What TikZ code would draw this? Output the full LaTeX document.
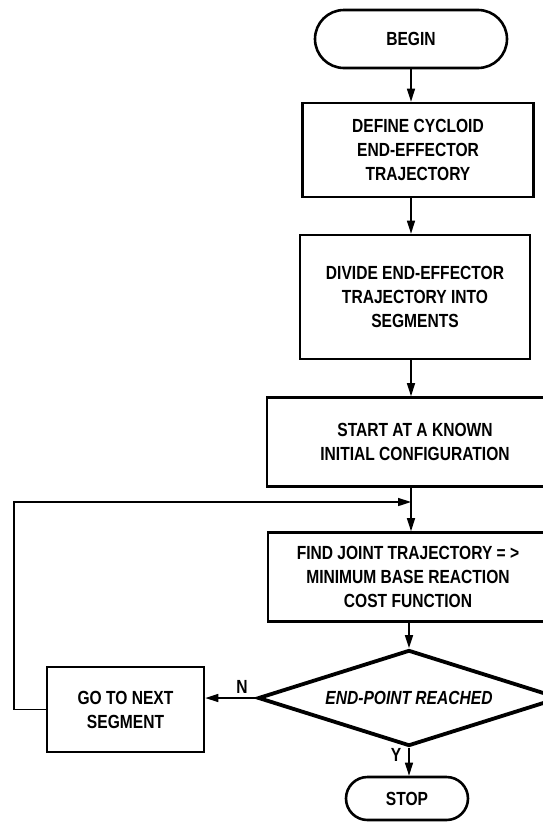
\documentclass[tikz,border=0pt]{standalone}
\usepackage{fontspec}
\setmainfont{Liberation Sans}[FakeStretch=0.82]
\usepackage{tikz}
\usetikzlibrary{arrows.meta, shapes.misc, shapes.geometric}
\newcommand{\chartfont}{\fontsize{19}{24}\selectfont\bfseries}
\tikzset{
    terminal/.style={rounded rectangle, draw, line width=2.6pt, inner sep=0pt},
    process/.style={rectangle, draw, line width=2.6pt, align=center, inner sep=0pt},
    decision/.style={diamond, aspect=3.15, draw, line width=3.8pt, inner sep=0pt, font=\chartfont\itshape},
    flow/.style={line width=1.6pt, -{Triangle[length=13pt, width=8pt]}},
    answer/.style={inner sep=1pt}
}

\begin{document}
\begin{tikzpicture}[x=1pt, y=-1pt, font=\chartfont]
    \useasboundingbox (0,0) rectangle (543,822);
    % main column of the chart
    \node[terminal, minimum width=192pt, minimum height=58pt] (begin) at (411,39) {BEGIN};
    \node[process, minimum width=231pt, minimum height=94pt] (define) at (418,150) {DEFINE CYCLOID\\END-EFFECTOR\\TRAJECTORY};
    \node[process, minimum width=230pt, minimum height=124pt] (divide) at (415,297) {DIVIDE END-EFFECTOR\\TRAJECTORY INTO\\SEGMENTS};
    \node[process, minimum width=296pt, minimum height=89pt] (start) at (415,442) {START AT A KNOWN\\INITIAL CONFIGURATION};
    \node[process, minimum width=280pt, minimum height=89pt] (find) at (408,577) {FIND JOINT TRAJECTORY = >\\MINIMUM BASE REACTION\\COST FUNCTION};
    \node[decision, minimum width=302pt, minimum height=96pt] (reached) at (409,698) {END-POINT REACHED};
    \node[terminal, minimum width=122pt, minimum height=43pt] (stop) at (407,798.5) {STOP};
    % side branch
    \node[process, minimum width=157pt, minimum height=85pt] (next) at (125.5,709.5) {GO TO NEXT\\SEGMENT};

    % vertical flow lines
    \coordinate (spine) at (411,0);
    \coordinate (corner) at (14,502);
    \draw[flow] (spine |- begin.south) -- (spine |- define.north);
    \draw[flow] (spine |- define.south) -- (spine |- divide.north);
    \draw[flow] (spine |- divide.south) -- (spine |- start.north);
    \draw[flow] (spine |- start.south) -- (spine |- find.north);
    \draw[flow] (reached |- find.south) -- (reached.north);
    \draw[flow] (reached.south) -- (reached.south |- stop.north)
        node[answer, pos=0.25, left=6pt] {Y};

    % loop back for the next segment
    \draw[flow] (reached.west) -- (reached.west -| next.east)
        node[answer, pos=0.28, above=3pt] {N};
    \draw[flow] (next.west) -| (corner) -- (spine |- corner);
\end{tikzpicture}
\end{document}
